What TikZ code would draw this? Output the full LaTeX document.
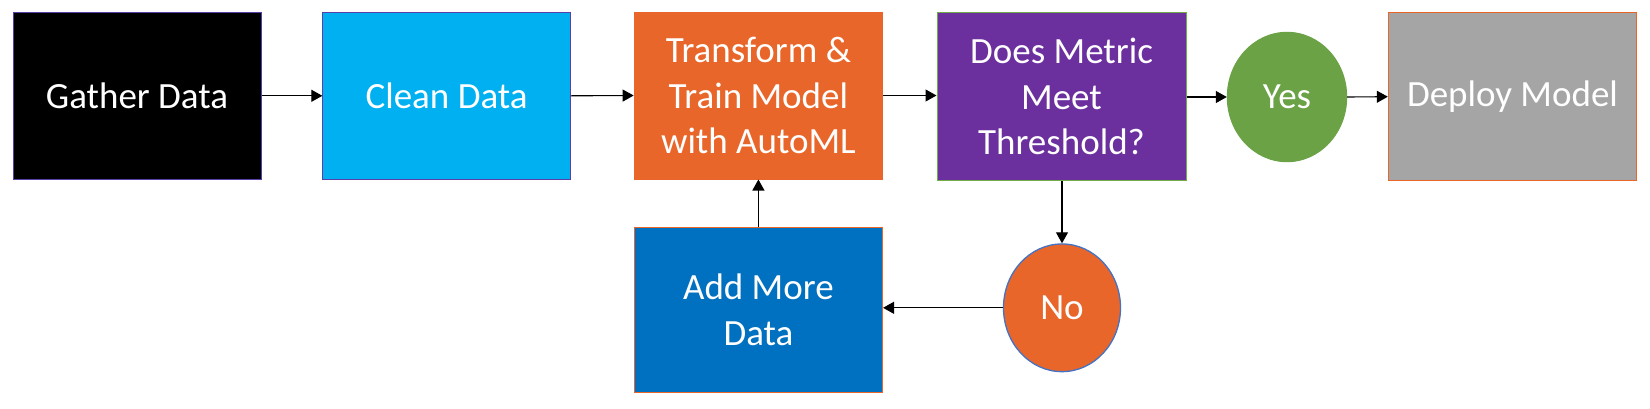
\documentclass[tikz,border=0pt]{standalone}
\usepackage{fontspec}
\setmainfont{Carlito}
\usetikzlibrary{arrows.meta,shapes.geometric}
\definecolor{cBlack}{HTML}{000000}
\definecolor{cCyan}{HTML}{00B0F0}
\definecolor{cOrange}{HTML}{E9662A}
\definecolor{cPurple}{HTML}{6B2F9E}
\definecolor{cGreen}{HTML}{6AA245}
\definecolor{cGray}{HTML}{A6A5A6}
\definecolor{cBlue}{HTML}{0070C0}
\definecolor{bPurple}{HTML}{5B3FA8}
\definecolor{bGreen}{HTML}{70AD47}
\definecolor{bBlue}{HTML}{4472C4}
\tikzset{
  x=1pt, y=-1pt,
  box/.style={rectangle, inner sep=0pt, line width=1pt, text=white, align=center,
    font=\fontsize{37}{45.5}\selectfont},
  oval/.style={ellipse, inner sep=0pt, line width=1pt, text=white, align=center,
    font=\fontsize{37}{45.5}\selectfont},
  conn/.style={line width=1.1pt, draw=black, -{Triangle[length=11pt,width=12pt]}},
}
\begin{document}
\begin{tikzpicture}
\useasboundingbox (0,0) rectangle (1650,408);
\node[box, fill=cBlack, draw=bPurple, minimum width=248pt, minimum height=167pt] (gather) at (137,95.8) {Gather Data};
\node[box, fill=cCyan, draw=bPurple, minimum width=247.5pt, minimum height=167pt] (clean) at (446.6,95.8) {Clean Data};
\node[box, fill=cOrange, draw=cOrange, minimum width=248.5pt, minimum height=167pt] (train) at (758.4,95.5) {Transform \&\\Train Model\\with AutoML};
\node[box, fill=cPurple, draw=bGreen, minimum width=249pt, minimum height=168pt] (metric) at (1061.5,96.7) {Does Metric\\Meet\\Threshold?};
\node[oval, fill=cGreen, draw=cGreen, minimum width=119.4pt, minimum height=129.4pt] (yes) at (1287,97) {Yes};
\node[box, fill=cGray, draw=cOrange, minimum width=248.4pt, minimum height=168pt] (deploy) at (1512.5,96.7) {Deploy Model};
\node[box, fill=cBlue, draw=cOrange, minimum width=248.3pt, minimum height=165.4pt] (add) at (758.4,310) {Add More\\Data};
\node[oval, fill=cOrange, draw=bBlue, line width=1.3pt, minimum width=117pt, minimum height=127.7pt] (no) at (1062,307.8) {No};
\draw[conn] (gather.east) -- (clean.west);
\draw[conn] (clean.east) -- (train.west);
\draw[conn] (train.east) -- (metric.west |- train.east);
\draw[conn] (metric.east |- yes.west) -- (yes.west);
\draw[conn] (yes.east) -- (deploy.west);
\draw[conn] (metric.south -| no.north) -- (no.north);
\draw[conn] (no.west) -- (add.east |- no.west);
\draw[conn] (add.north -| train.south) -- (train.south);
\end{tikzpicture}
\end{document}
